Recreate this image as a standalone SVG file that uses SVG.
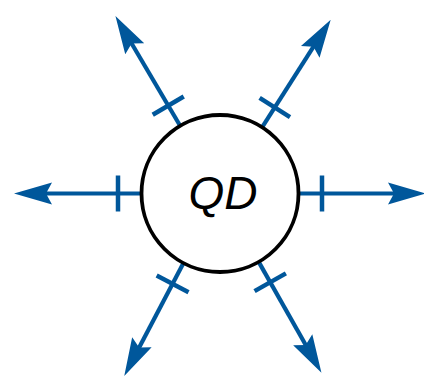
<svg xmlns="http://www.w3.org/2000/svg" width="424" height="380" viewBox="0 0 424 380">
  <style>
    .shaft { stroke: #00579b; stroke-width: 4.2; fill: none; }
    .tick { stroke: #00579b; stroke-width: 4.5; fill: none; }
    .head { fill: #00579b; stroke: none; }
    .node { fill: #ffffff; stroke: #000000; stroke-width: 3.8; }
    .label { font-family: "Liberation Sans", Arial, sans-serif; font-style: italic; font-size: 46px; fill: #000000; }
  </style>
  <defs>
    <!-- one outward spoke, pointing right from the node centre (220,193.5) -->
    <g id="spoke">
      <line class="shaft" x1="298" y1="193.5" x2="397" y2="193.5"/>
      <line class="tick" x1="322" y1="175.5" x2="322" y2="211.5"/>
      <path class="head" d="M426,193.5 L388,182.5 L394,193.5 L388,204.5 Z"/>
    </g>
  </defs>
  <g id="connectors">
    <use href="#spoke"/>
    <use href="#spoke" transform="rotate(-57.5 220 193.5)"/>
    <use href="#spoke" transform="rotate(-120.5 220 193.5)"/>
    <use href="#spoke" transform="rotate(180 220 193.5)"/>
    <use href="#spoke" transform="rotate(117.7 220 193.5)"/>
    <use href="#spoke" transform="rotate(60.5 220 193.5)"/>
  </g>
  <g id="qd">
    <circle class="node" cx="220" cy="193.5" r="78.5"/>
    <text class="label" x="223" y="209" text-anchor="middle">QD</text>
  </g>
</svg>
